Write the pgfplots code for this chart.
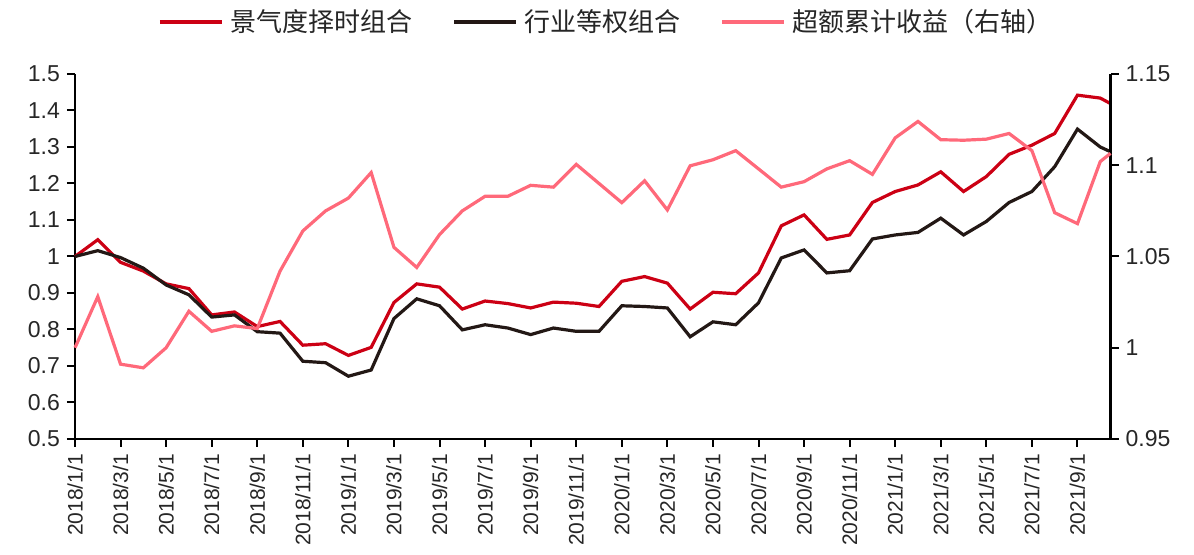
\documentclass[border=0pt]{standalone}
\usepackage{pgfplots}
\pgfplotsset{compat=1.18}
\usepackage{pgfplotstable}
\usepackage{fontspec}
\setmainfont{Liberation Sans}
\newfontfamily\cjk{Noto Sans CJK SC}
\definecolor{cred}{RGB}{204,0,20}
\definecolor{cblack}{RGB}{35,24,21}
\definecolor{cpink}{RGB}{255,105,122}

\pgfplotstableread{
x y
0 1.000
1 1.046
2 0.984
3 0.960
4 0.925
5 0.912
6 0.840
7 0.848
8 0.808
9 0.822
10 0.757
11 0.761
12 0.729
13 0.751
14 0.874
15 0.925
16 0.916
17 0.856
18 0.878
19 0.871
20 0.859
21 0.875
22 0.872
23 0.863
24 0.932
25 0.945
26 0.927
27 0.856
28 0.902
29 0.898
30 0.955
31 1.084
32 1.114
33 1.047
34 1.059
35 1.148
36 1.178
37 1.196
38 1.232
39 1.178
40 1.219
41 1.280
42 1.305
43 1.337
44 1.442
45 1.434
45.45 1.419
}\redtab

\pgfplotstableread{
x y
0 1.000
1 1.016
2 0.997
3 0.968
4 0.922
5 0.895
6 0.834
7 0.840
8 0.794
9 0.790
10 0.713
11 0.709
12 0.672
13 0.689
14 0.830
15 0.884
16 0.865
17 0.799
18 0.813
19 0.804
20 0.786
21 0.804
22 0.795
23 0.795
24 0.865
25 0.863
26 0.859
27 0.780
28 0.821
29 0.813
30 0.873
31 0.996
32 1.018
33 0.955
34 0.961
35 1.048
36 1.059
37 1.066
38 1.105
39 1.059
40 1.096
41 1.148
42 1.178
43 1.246
44 1.349
45 1.300
45.45 1.287
}\blacktab

\pgfplotstableread{
x y
0 1.000
1 1.028
2 0.991
3 0.989
4 1.000
5 1.020
6 1.009
7 1.012
8 1.0105
9 1.042
10 1.064
11 1.075
12 1.082
13 1.096
14 1.055
15 1.044
16 1.062
17 1.075
18 1.083
19 1.083
20 1.089
21 1.088
22 1.1005
23 1.090
24 1.0795
25 1.0915
26 1.0755
27 1.0997
28 1.103
29 1.108
30 1.098
31 1.088
32 1.091
33 1.098
34 1.1025
35 1.095
36 1.115
37 1.124
38 1.114
39 1.1137
40 1.1143
41 1.1174
42 1.108
43 1.074
44 1.068
45 1.102
45.45 1.1065
}\pinktab

\begin{document}
\begin{tikzpicture}
\pgfplotsset{
  common/.style={
    scale only axis, width=517.75pt, height=182.5pt,
    xmin=0, xmax=45.45, clip=false,
    tick align=outside, major tick length=4pt,
    axis line style={-, black, line width=1.1pt},
    tick style={black, line width=1pt},
    tick label style={text=black!85},
    y tick label style={font=\fontsize{11.5}{13}\selectfont},
    x tick label style={font=\fontsize{10.5}{12}\selectfont},
  }
}
\begin{axis}[common,
  axis x line*=bottom, axis y line*=left,
  ymin=0.5, ymax=1.5,
  ytick={0.5,0.6,0.7,0.8,0.9,1,1.1,1.2,1.3,1.4,1.5},
  yticklabels={0.5,0.6,0.7,0.8,0.9,1,1.1,1.2,1.3,1.4,1.5},
  xtick={0,2,...,44},
  xticklabels={2018/1/1,2018/3/1,2018/5/1,2018/7/1,2018/9/1,2018/11/1,2019/1/1,2019/3/1,2019/5/1,2019/7/1,2019/9/1,2019/11/1,2020/1/1,2020/3/1,2020/5/1,2020/7/1,2020/9/1,2020/11/1,2021/1/1,2021/3/1,2021/5/1,2021/7/1,2021/9/1},
  x tick label style={rotate=90, anchor=east},
  legend columns=3,
  legend style={draw=none, at={(0.5,1)}, anchor=center, xshift=7.4pt, yshift=26pt,
    font=\fontsize{13}{15}\selectfont\cjk, text=black!85,
    /tikz/every odd column/.append style={column sep=1.5pt},
    /tikz/every even column/.append style={column sep=18pt}},
  legend image code/.code={\draw[#1] (0pt,0pt) -- (31pt,0pt);},
]
\addplot[cred, line width=1.6pt] table[x=x,y=y] {\redtab};
\addlegendentry{景气度择时组合}
\addplot[cblack, line width=1.6pt] table[x=x,y=y] {\blacktab};
\addlegendentry{行业等权组合}
\addlegendimage{cpink, line width=1.6pt}
\addlegendentry{超额累计收益（右轴）}
\end{axis}
\begin{axis}[common,
  axis x line=none, axis y line*=right,
  ymin=0.95, ymax=1.15,
  ytick={0.95,1,1.05,1.1,1.15},
  yticklabels={0.95,1,1.05,1.1,1.15},
]
\addplot[cpink, line width=1.6pt] table[x=x,y=y] {\pinktab};
\end{axis}
\path (current axis.south west) ++(-37.5pt,-58pt) rectangle ++(597pt,277.5pt);
\end{tikzpicture}
\end{document}
